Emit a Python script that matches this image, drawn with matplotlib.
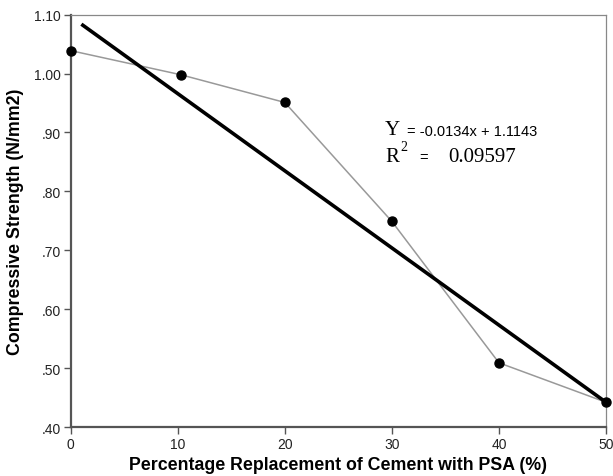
import matplotlib
matplotlib.use("Agg")
import matplotlib.pyplot as plt
import numpy as np

# Data
replacement_pct = [0, 10.3, 20, 30, 40, 50]
strength = [1.039, 0.998, 0.951, 0.749, 0.509, 0.442]
fit_slope = -0.0131
fit_intercept = 1.097
fit_x_range = [1.0, 50]
x_ticks = [0, 10, 20, 30, 40, 50]
y_ticks = [0.40, 0.50, 0.60, 0.70, 0.80, 0.90, 1.00, 1.10]
y_tick_labels = [".40", ".50", ".60", ".70", ".80", ".90", "1.00", "1.10"]

fig = plt.figure(figsize=(6.13, 4.77), dpi=100)
ax = fig.add_axes([0.1153, 0.1027, 0.8733, 0.8644])

ax.plot(replacement_pct, strength, color="#999999", lw=1.1, zorder=2, clip_on=False)
ax.plot(replacement_pct, strength, "o", color="black", ms=6.5, zorder=4, clip_on=False)

fx = np.array(fit_x_range)
ax.plot(fx, fit_slope * fx + fit_intercept, color="black", lw=2.6, zorder=3,
        solid_capstyle="butt", clip_on=False)

ax.set_xlim(0, 50)
ax.set_ylim(0.40, 1.10)
ax.set_xticks(x_ticks)
ax.set_yticks(y_ticks)
ax.set_yticklabels(y_tick_labels)

for s in ["left", "bottom"]:
    ax.spines[s].set_color("#555555")
    ax.spines[s].set_linewidth(1.6)
for s in ["top", "right"]:
    ax.spines[s].set_color("#888888")
    ax.spines[s].set_linewidth(0.9)

ax.tick_params(axis="both", direction="out", length=5, width=1.0, color="#555555",
               labelsize=10, labelcolor="#222222", pad=2)
for lab in ax.get_xticklabels() + ax.get_yticklabels():
    lab.set_fontfamily("Liberation Sans")

ax.set_xlabel("Percentage Replacement of Cement with PSA (%)", fontsize=12.8,
              fontweight="bold", family="Liberation Sans", labelpad=4)
ax.set_ylabel("Compressive Strength (N/mm2)", fontsize=12.8,
              fontweight="bold", family="Liberation Sans", labelpad=7)

serif = "Liberation Serif"
sans = "Liberation Sans"
ax.text(0.587, 0.7107, "Y", transform=ax.transAxes, fontsize=15, family=serif,
        ha="left", va="baseline")
ax.text(0.628, 0.709, "= -0.0134x + 1.1143", transform=ax.transAxes, fontsize=10.5,
        family=sans, ha="left", va="baseline")
ax.text(0.587, 0.646, "R", transform=ax.transAxes, fontsize=15, family=serif,
        ha="left", va="baseline")
ax.text(0.616, 0.672, "2", transform=ax.transAxes, fontsize=10, family=serif,
        ha="left", va="baseline")
ax.text(0.652, 0.646, "=", transform=ax.transAxes, fontsize=10.5, family=sans,
        ha="left", va="baseline")
ax.text(0.705, 0.646, "0.09597", transform=ax.transAxes, fontsize=15, family=serif,
        ha="left", va="baseline")

fig.savefig("out.png", dpi=100)
